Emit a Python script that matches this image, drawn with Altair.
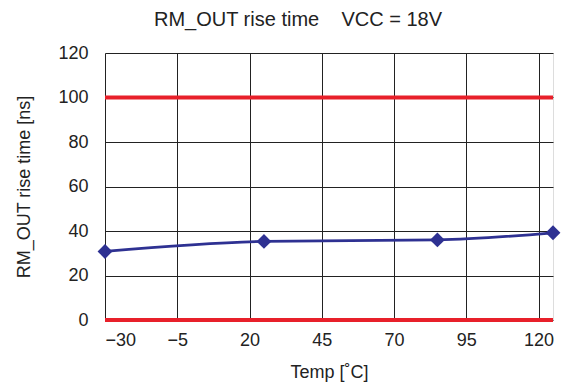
import altair as alt
import pandas as pd

temps = [-30, 25, 85, 125]
rise_ns = [30.8, 35.3, 36.0, 39.2]
limit_values = [0, 100]
x_ticks = [-30, -5, 20, 45, 70, 95, 120]
y_ticks = [0, 20, 40, 60, 80, 100, 120]

df = pd.DataFrame({"temp": temps, "rise": rise_ns})
lim = pd.DataFrame({"y": limit_values})

FONT = "Liberation Sans"
TXT = "#222"

x_scale = alt.Scale(domain=[-30, 125], nice=False, zero=False)
y_scale = alt.Scale(domain=[0, 120], nice=False)

base = alt.Chart(df)

line = base.mark_line(color="#2E3192", strokeWidth=2.8, interpolate="monotone").encode(
    x=alt.X("temp:Q", scale=x_scale,
            axis=alt.Axis(values=x_ticks, title="Temp [˚C]", grid=True, gridColor="#222",
                          gridWidth=1, gridOpacity=1, ticks=False, domain=False,
                          labelExpr="replace(datum.label, '-', '–')",
                          labelFont=FONT, labelFontSize=18, labelColor=TXT,
                          labelPadding=11, titleFont=FONT, titleFontSize=18,
                          titleFontWeight="normal", titleColor=TXT, titlePadding=14)),
    y=alt.Y("rise:Q", scale=y_scale,
            axis=alt.Axis(values=y_ticks, title="RM_OUT rise time [ns]", grid=True,
                          gridColor="#222", gridWidth=1, gridOpacity=1, ticks=False,
                          domain=False, labelFont=FONT, labelFontSize=18, labelColor=TXT,
                          labelPadding=17, titleFont=FONT, titleFontSize=18,
                          titleFontWeight="normal", titleColor=TXT, titlePadding=24)),
)

pts = base.mark_point(shape="diamond", filled=True, color="#2E3192", size=220, opacity=1).encode(
    x=alt.X("temp:Q", scale=x_scale),
    y=alt.Y("rise:Q", scale=y_scale),
)

rules = alt.Chart(lim).mark_rule(color="#E8202A", strokeWidth=4).encode(
    y=alt.Y("y:Q", scale=y_scale),
)

chart = alt.layer(rules, line, pts).properties(
    width=448,
    height=267,
    title=alt.TitleParams("RM_OUT rise time\u00a0\u00a0\u00a0\u00a0VCC = 18V", font=FONT,
                          fontSize=20, fontWeight="normal", color=TXT, offset=14,
                          anchor="middle", dx=-31),
    autosize=alt.AutoSizeParams(type="none"),
    padding={"left": 97, "top": 45, "right": 8, "bottom": 72},
).configure_view(stroke="#000", strokeWidth=1.5).configure(background="white")

chart.save("out.html", embed_options={"renderer": "svg", "actions": False})
